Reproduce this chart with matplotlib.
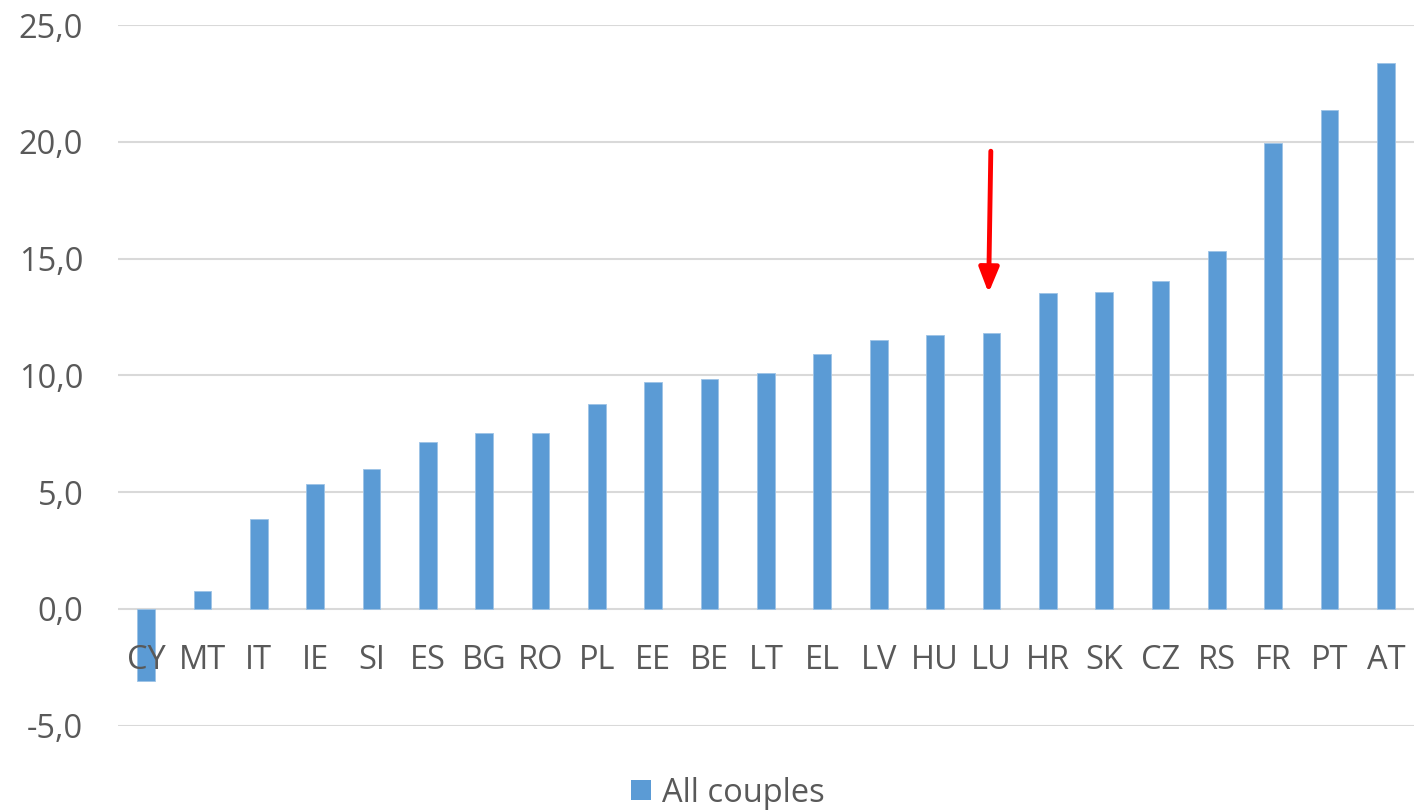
import matplotlib.pyplot as plt
from matplotlib.patches import Patch

countries = ["CY", "MT", "IT", "IE", "SI", "ES", "BG", "RO", "PL", "EE", "BE",
             "LT", "EL", "LV", "HU", "LU", "HR", "SK", "CZ", "RS", "FR", "PT", "AT"]
values = [-3.07, 0.78, 3.85, 5.34, 5.99, 7.14, 7.52, 7.53, 8.77, 9.70, 9.85,
          10.12, 10.90, 11.52, 11.74, 11.83, 13.51, 13.56, 14.04, 15.34, 19.95, 21.35, 23.39]
y_ticks = [-5, 0, 5, 10, 15, 20, 25]

bar_color = "#5b9bd5"
text_color = "#595959"
grid_color = "#d9d9d9"

plt.rcParams['font.family'] = ['Open Sans', 'DejaVu Sans']

fig = plt.figure(figsize=(14.16, 8.1), dpi=100)
ax = fig.add_axes([0.0833, 0.104, 0.9153, 0.865])

x = list(range(len(countries)))
ax.bar(x, values, width=0.314, color=bar_color, edgecolor="#9dc3e6", linewidth=0.6, zorder=1)

# gridlines drawn as lines behind the bars so the tick labels can sit on top
for t in y_ticks:
    ax.axhline(t, color=grid_color, linewidth=1.5, zorder=0)

ax.set_xlim(-0.5, len(countries) - 0.5)
ax.set_ylim(-5, 25)
ax.set_yticks(y_ticks)
ax.set_yticklabels([f"{v:.1f}".replace(".", ",") for v in y_ticks])
ax.set_xticks(x)
ax.set_xticklabels(countries)

# x labels sit at the zero line, like the Excel category axis
ax.spines['bottom'].set_position(('data', 0))
for s in ax.spines.values():
    s.set_visible(False)
ax.tick_params(axis='x', length=0, pad=25, labelsize=23.5, labelcolor=text_color)
ax.tick_params(axis='y', length=0, pad=25, labelsize=23.5, labelcolor=text_color)
ax.set_axisbelow(False)

# red arrow pointing at LU
ax.annotate("", xy=(14.95, 13.53), xytext=(14.99, 19.6),
            arrowprops=dict(arrowstyle="-|>,head_width=0.6,head_length=1.5",
                            color="red", lw=3.5, shrinkA=0, shrinkB=0), zorder=5)

fig.legend(handles=[Patch(facecolor=bar_color, label="All couples")],
           loc="center", bbox_to_anchor=(0.514, 1 - 793 / 810), frameon=False,
           fontsize=23.5, labelcolor=text_color, handlelength=0.6, handleheight=0.6,
           handletextpad=0.35)

fig.savefig("out.png", dpi=100)
